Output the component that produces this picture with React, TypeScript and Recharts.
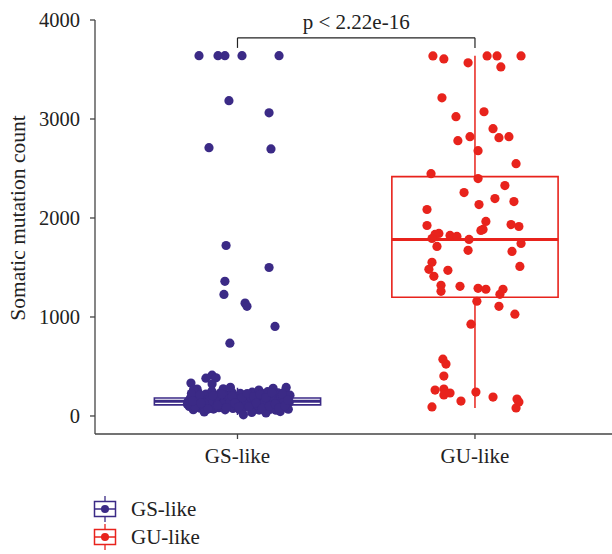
import React from 'react';
import { ScatterChart, Scatter, XAxis, YAxis, ReferenceArea, ReferenceLine } from 'recharts';

const FONT = '"Liberation Serif", "DejaVu Serif", serif';

const categories = ['GS-like', 'GU-like'];
const colors = ['#3b2a86', '#e8231c'];

// box stats per group (Q1, median, Q3, whiskers)
const boxQ1 = [112, 1199];
const boxMedian = [148, 1783];
const boxQ3 = [181, 2418];
const whiskLow = [10, 81];
const whiskHigh = [285, 3640];

const yTicks = [0, 1000, 2000, 3000, 4000];
const pLabel = 'p < 2.22e-16';
const bracketTop = 3820;
const bracketFoot = 3718;

// [jitter, somatic mutation count]
const gsPoints: [number, number][] = [
  [-0.162, 3640], [-0.082, 3640], [-0.053, 3640], [0.019, 3640], [0.175, 3640],
  [-0.036, 3185], [0.133, 3062], [-0.12, 2710], [0.141, 2698],
  [-0.048, 1722], [0.133, 1500], [-0.053, 1360], [-0.057, 1228], [0.032, 1140],
  [0.04, 1108], [0.158, 905], [-0.032, 735],
  [-0.107, 412], [-0.09, 385], [-0.133, 382], [-0.196, 332], [-0.107, 322], [-0.17, 272],
  [-0.208, 148], [-0.203, 96], [-0.198, 182], [-0.191, 121], [-0.186, 64], [-0.183, 205],
  [-0.176, 158], [-0.171, 102], [-0.166, 236], [-0.162, 137], [-0.157, 78], [-0.151, 190],
  [-0.148, 118], [-0.142, 165], [-0.137, 58], [-0.133, 221], [-0.128, 143], [-0.121, 92],
  [-0.117, 178], [-0.112, 126], [-0.108, 249], [-0.101, 70], [-0.097, 160], [-0.093, 113],
  [-0.087, 198], [-0.082, 140], [-0.078, 84], [-0.073, 231], [-0.069, 152], [-0.064, 106],
  [-0.058, 188], [-0.052, 62], [-0.049, 134], [-0.044, 214], [-0.039, 98], [-0.034, 171],
  [-0.028, 124], [-0.024, 242], [-0.019, 76], [-0.013, 156], [-0.008, 110], [-0.004, 196],
  [0.003, 138], [0.008, 66], [0.012, 228], [0.017, 168], [0.023, 104], [0.027, 150],
  [0.031, 88], [0.037, 208], [0.025, 12], [0.046, 130], [0.051, 176], [0.057, 72],
  [0.062, 240], [0.066, 118], [0.071, 160], [0.077, 94], [0.082, 202], [0.086, 142],
  [0.091, 60], [0.097, 184], [0.102, 122], [0.107, 226], [0.111, 82], [0.116, 154],
  [0.122, 108], [0.127, 246], [0.131, 170], [0.136, 66], [0.142, 132], [0.147, 212],
  [0.151, 96], [0.157, 178], [0.162, 58], [0.166, 146], [0.171, 234], [0.177, 114],
  [0.182, 192], [0.186, 80], [0.191, 162], [0.196, 128], [0.201, 252], [0.205, 100],
  [0.209, 174], [0.214, 68], [0.218, 140], [0.221, 210],
  [-0.2, 132], [-0.173, 176], [-0.144, 98], [-0.119, 150], [-0.09, 186], [-0.062, 120],
  [-0.031, 146], [-0.002, 170], [0.028, 126], [0.055, 188], [0.084, 112], [0.113, 138],
  [0.139, 196], [0.168, 124], [0.197, 150], [-0.185, 268], [-0.06, 275], [0.09, 262],
  [0.15, 280], [-0.14, 40], [0.06, 35], [0.18, 45], [-0.03, 290], [0.12, 30], [0.205, 288],
  [-0.194, 226], [-0.179, 88], [-0.159, 214], [-0.139, 128], [-0.124, 70], [-0.104, 204],
  [-0.084, 108], [-0.067, 222], [-0.047, 84], [-0.022, 200], [-0.011, 132], [0.006, 92],
  [0.02, 186], [0.041, 226], [0.048, 96], [0.068, 196], [0.079, 130], [0.095, 218],
  [0.104, 78], [0.119, 186], [0.134, 100], [0.144, 236], [0.159, 122], [0.174, 84],
  [0.189, 218], [0.199, 104], [0.212, 160], [-0.211, 118], [-0.188, 152], [-0.155, 132],
];

const guPoints: [number, number][] = [
  [-0.177, 3637], [-0.131, 3607], [-0.029, 3567], [0.051, 3637], [0.093, 3637],
  [0.109, 3526], [0.194, 3637], [-0.139, 3214], [0.038, 3073], [-0.08, 3023],
  [0.076, 2902], [-0.021, 2821], [0.101, 2811], [0.143, 2821], [-0.072, 2781],
  [0.013, 2680], [0.173, 2549], [-0.185, 2448], [0.013, 2398], [0.126, 2327],
  [-0.046, 2257], [0.084, 2196], [0.164, 2166], [0.017, 2136], [-0.202, 2086],
  [0.046, 1965], [-0.202, 1924], [0.152, 1934], [0.185, 1914], [0.034, 1884],
  [0.025, 1874], [-0.152, 1844], [-0.168, 1834], [-0.105, 1824], [-0.076, 1814],
  [-0.181, 1793], [-0.025, 1783], [0.194, 1743], [-0.16, 1713], [-0.029, 1673],
  [0.156, 1662], [-0.181, 1552], [-0.194, 1481], [-0.114, 1471], [0.189, 1511],
  [-0.173, 1411], [-0.143, 1320], [-0.143, 1259], [-0.063, 1310], [0.013, 1290],
  [0.046, 1280], [0.118, 1280], [0.105, 1229], [0.008, 1159], [0.101, 1108],
  [0.168, 1028], [-0.017, 927], [-0.135, 574], [-0.122, 524], [-0.131, 403],
  [-0.168, 262], [-0.131, 272], [-0.131, 212], [-0.105, 232], [0.004, 242],
  [0.076, 191], [-0.059, 151], [-0.181, 91], [0.177, 171], [0.185, 141], [0.173, 81],
];

const toData = (pts: [number, number][], pos: number) => pts.map(([j, v]) => ({ x: pos + j, y: v }));
const gsData = toData(gsPoints, 1);
const guData = toData(guPoints, 2);

const dot = (color: string) => (p: any) => <circle cx={p.cx} cy={p.cy} r={4.6} fill={color} />;

const YLabel = ({ viewBox }: any) => {
  const cy = viewBox.y + viewBox.height / 2 - 9;
  return (
    <text transform={`translate(25, ${cy}) rotate(-90)`} textAnchor="middle" fill="#222" fontSize={21.5} fontFamily={FONT}>
      Somatic mutation count
    </text>
  );
};

const LegendIcon = ({ color }: { color: string }) => (
  <svg width={26} height={28} style={{ display: 'block' }}>
    <line x1={12} x2={12} y1={1} y2={27} stroke={color} strokeWidth={1.3} />
    <rect x={1.5} y={6.5} width={21} height={15} fill="#fff" stroke={color} strokeWidth={1.5} />
    <line x1={1.5} x2={22.5} y1={14} y2={14} stroke={color} strokeWidth={1.5} />
    <circle cx={12} cy={14} r={4} fill={color} />
  </svg>
);

export default function App() {
  const boxW = 0.35;
  return (
    <div style={{ position: 'absolute', left: 0, top: 0, width: 612, height: 554, background: '#fff' }}>
      <ScatterChart width={612} height={554} margin={{ top: 20, right: 0, bottom: 90, left: 0 }}>
        <XAxis
          type="number"
          dataKey="x"
          domain={[0.4, 2.577]}
          ticks={[1, 2]}
          tickFormatter={(v: number) => categories[v - 1]}
          allowDataOverflow
          stroke="#444"
          strokeWidth={1.3}
          tickSize={5}
          tickMargin={9}
          tick={{ fill: '#222', fontSize: 21, fontFamily: FONT }}
        />
        <YAxis
          type="number"
          dataKey="y"
          domain={[-182, 4000]}
          ticks={yTicks}
          allowDataOverflow
          width={95}
          stroke="#444"
          strokeWidth={1.3}
          tickSize={5}
          tickMargin={10}
          tick={{ fill: '#222', fontSize: 20.5, fontFamily: FONT }}
          label={<YLabel />}
        />
        {categories.map((c, i) => (
          <ReferenceLine
            key={c + '-wl'}
            segment={[{ x: i + 1, y: whiskLow[i] }, { x: i + 1, y: boxQ1[i] }]}
            stroke={colors[i]}
            strokeWidth={1.5}
          />
        ))}
        {categories.map((c, i) => (
          <ReferenceLine
            key={c + '-wh'}
            segment={[{ x: i + 1, y: boxQ3[i] }, { x: i + 1, y: whiskHigh[i] }]}
            stroke={colors[i]}
            strokeWidth={1.5}
          />
        ))}
        {categories.map((c, i) => (
          <ReferenceArea
            key={c + '-box'}
            x1={i + 1 - boxW}
            x2={i + 1 + boxW}
            y1={boxQ1[i]}
            y2={boxQ3[i]}
            stroke={colors[i]}
            strokeWidth={1.6}
            fill="#fff"
            fillOpacity={0}
            strokeOpacity={1}
          />
        ))}
        {categories.map((c, i) => (
          <ReferenceLine
            key={c + '-med'}
            segment={[{ x: i + 1 - boxW, y: boxMedian[i] }, { x: i + 1 + boxW, y: boxMedian[i] }]}
            stroke={colors[i]}
            strokeWidth={3}
          />
        ))}
        <ReferenceLine
          segment={[{ x: 1, y: bracketTop }, { x: 2, y: bracketTop }]}
          stroke="#222"
          strokeWidth={1.2}
          label={{ value: pLabel, position: 'top', offset: 9, fill: '#222', fontSize: 21, fontFamily: FONT }}
        />
        <ReferenceLine segment={[{ x: 1, y: bracketTop }, { x: 1, y: bracketFoot }]} stroke="#222" strokeWidth={1.2} />
        <ReferenceLine segment={[{ x: 2, y: bracketTop }, { x: 2, y: bracketFoot }]} stroke="#222" strokeWidth={1.2} />
        <Scatter name="GS-like" data={gsData} fill={colors[0]} shape={dot(colors[0])} isAnimationActive={false} />
        <Scatter name="GU-like" data={guData} fill={colors[1]} shape={dot(colors[1])} isAnimationActive={false} />
      </ScatterChart>
      <div style={{ position: 'absolute', left: 93, top: 495, fontFamily: FONT, fontSize: 21, color: '#222' }}>
        {categories.map((c, i) => (
          <div key={c} style={{ display: 'flex', alignItems: 'center', height: 28 }}>
            <LegendIcon color={colors[i]} />
            <span style={{ marginLeft: 12 }}>{c}</span>
          </div>
        ))}
      </div>
    </div>
  );
}
